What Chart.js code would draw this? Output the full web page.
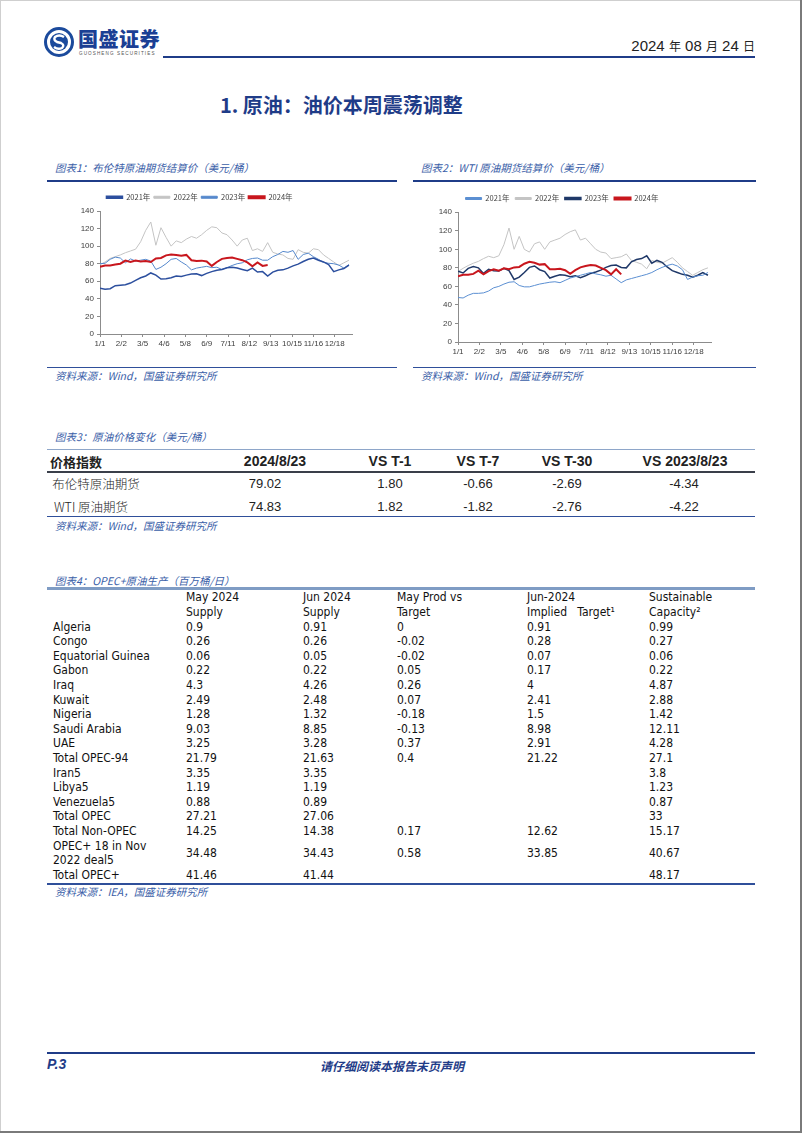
<!DOCTYPE html>
<html>
<head>
<meta charset="utf-8">
<script src="https://cdn.jsdelivr.net/npm/chart.js@4/dist/chart.umd.min.js"></script>
<style>
  html, body { margin: 0; padding: 0; }
  body { width: 802px; height: 1133px; position: relative; background: #fff; overflow: hidden;
         font-family: "Liberation Sans", "Noto Sans CJK SC", sans-serif; color: #222; }
  .abs { position: absolute; white-space: nowrap; }
  .cap { font-family: "Noto Sans CJK SC", sans-serif; font-style: italic; font-size: 10.5px; color: #3a5ea8; }
  .line { position: absolute; }
  .c3 { position: absolute; transform: translate(-50%, -50%); font-size: 13px; color: #222; }
  .h3 { font-weight: bold; font-size: 14px; }
  #opec { position: absolute; left: 47px; top: 590px; width: 708px; border-collapse: collapse; table-layout: fixed;
          font-family: "DejaVu Sans Condensed", "Liberation Sans", sans-serif; font-size: 12px; color: #111; }
  #opec td { padding: 0; line-height: 14.6px; height: 14.6px; vertical-align: middle; white-space: nowrap; }
  #opec td:first-child { padding-left: 6px; }
  #opec tr.hd td { line-height: 14.8px; vertical-align: top; }
</style>
</head>
<body>

<!-- page edges -->
<div class="line" style="left:0;top:0;width:802px;height:1px;background:#cfcfcf"></div>
<div class="line" style="left:0;top:0;width:1px;height:1133px;background:#cfcfcf"></div>
<div class="line" style="left:800px;top:0;width:2px;height:1133px;background:#7a7a7a"></div>
<div class="line" style="left:0;top:1131px;width:802px;height:2px;background:#7a7a7a"></div>

<!-- header -->
<svg class="abs" style="left:44px;top:27px" width="30" height="30" viewBox="0 0 30 30">
  <circle cx="15" cy="15" r="13.5" fill="none" stroke="#1b4a9c" stroke-width="3"/>
  <circle cx="15" cy="15" r="9" fill="#1b4a9c"/>
  <path d="M20 10 Q15 7 11 10 Q9 13 13 15 L17 16 Q21 18 18 21 Q14 23 10 20" fill="none" stroke="#fff" stroke-width="2.4"/>
</svg>
<div class="abs" style="left:78px;top:28px;line-height:22px;font-family:'Noto Sans CJK SC';font-weight:900;font-size:20px;color:#1b3f94;letter-spacing:0.5px">国盛证券</div>
<div class="abs" style="left:79px;top:51px;line-height:6px;font-size:4.6px;letter-spacing:1.1px;color:#555">GUOSHENG SECURITIES</div>
<div class="line" style="left:163px;top:56px;width:592px;height:2px;background:#1f3c88"></div>
<div class="abs" style="right:47px;top:37px;font-size:15px;color:#222">2024 <span style="font-family:'Noto Sans CJK SC';font-size:12px">年</span> 08 <span style="font-family:'Noto Sans CJK SC';font-size:12px">月</span> 24 <span style="font-family:'Noto Sans CJK SC';font-size:12px">日</span></div>

<div class="abs" style="left:220px;top:90px;font-family:'Noto Sans CJK SC';font-weight:bold;font-size:20px;color:#1f3c88">1. 原油：油价本周震荡调整</div>

<!-- chart captions -->
<div class="abs cap" style="left:55px;top:160px">图表1：布伦特原油期货结算价（美元/桶）</div>
<div class="line" style="left:47px;top:180px;width:350px;height:2px;background:#1f3c88"></div>
<div class="abs cap" style="left:421px;top:160px">图表2：WTI 原油期货结算价（美元/桶）</div>
<div class="line" style="left:413px;top:180px;width:343px;height:2px;background:#1f3c88"></div>

<canvas id="brentChart" class="abs" style="left:47px;top:187px" width="350" height="170"></canvas>
<canvas id="wtiChart" class="abs" style="left:413px;top:186px" width="343" height="180"></canvas>

<div class="line" style="left:47px;top:367px;width:350px;height:1px;background:#2f4f9a"></div>
<div class="abs cap" style="left:55px;top:368px">资料来源：Wind，国盛证券研究所</div>
<div class="line" style="left:413px;top:367px;width:343px;height:1px;background:#2f4f9a"></div>
<div class="abs cap" style="left:421px;top:368px">资料来源：Wind，国盛证券研究所</div>

<!-- table 3 -->
<div class="abs cap" style="left:55px;top:429px">图表3：原油价格变化（美元/桶）</div>
<div class="line" style="left:47px;top:449px;width:708px;height:1px;background:#8ea6c9"></div>
<div class="c3 h3" style="left:76px;top:461px;font-family:'Noto Sans CJK SC';font-size:13px">价格指数</div>
<div class="c3 h3" style="left:275px;top:461px">2024/8/23</div>
<div class="c3 h3" style="left:390px;top:461px">VS T-1</div>
<div class="c3 h3" style="left:478px;top:461px">VS T-7</div>
<div class="c3 h3" style="left:567px;top:461px">VS T-30</div>
<div class="c3 h3" style="left:685px;top:461px">VS 2023/8/23</div>
<div class="line" style="left:47px;top:471px;width:708px;height:2px;background:#3a3f4a"></div>
<div class="c3" style="left:96px;top:483px;font-family:'Noto Sans CJK SC';font-weight:300;font-size:12.5px">布伦特原油期货</div>
<div class="c3" style="left:265px;top:483px">79.02</div>
<div class="c3" style="left:390px;top:483px">1.80</div>
<div class="c3" style="left:478px;top:483px">-0.66</div>
<div class="c3" style="left:567px;top:483px">-2.69</div>
<div class="c3" style="left:684px;top:483px">-4.34</div>
<div class="c3" style="left:91px;top:506px;font-family:'Noto Sans CJK SC';font-weight:300;font-size:12.5px">WTI 原油期货</div>
<div class="c3" style="left:265px;top:506px">74.83</div>
<div class="c3" style="left:390px;top:506px">1.82</div>
<div class="c3" style="left:478px;top:506px">-1.82</div>
<div class="c3" style="left:567px;top:506px">-2.76</div>
<div class="c3" style="left:684px;top:506px">-4.22</div>
<div class="line" style="left:47px;top:516px;width:708px;height:1px;background:#2f4f9a"></div>
<div class="abs cap" style="left:55px;top:518px">资料来源：Wind，国盛证券研究所</div>

<!-- table 4 -->
<div class="abs cap" style="left:55px;top:573px">图表4：OPEC+原油生产（百万桶/日）</div>
<div class="line" style="left:47px;top:587px;width:708px;height:3px;background:#7f9cc4"></div>
<table id="opec">
  <colgroup><col style="width:139px"><col style="width:117px"><col style="width:94px"><col style="width:130px"><col style="width:122px"><col style="width:106px"></colgroup>
  <tr class="hd"><td></td><td>May 2024<br>Supply</td><td>Jun 2024<br>Supply</td><td>May Prod vs<br>Target</td><td>Jun-2024<br>Implied&nbsp;&nbsp;&nbsp;Target¹</td><td>Sustainable<br>Capacity²</td></tr>
  <tr><td>Algeria</td><td>0.9</td><td>0.91</td><td>0</td><td>0.91</td><td>0.99</td></tr>
  <tr><td>Congo</td><td>0.26</td><td>0.26</td><td>-0.02</td><td>0.28</td><td>0.27</td></tr>
  <tr><td>Equatorial Guinea</td><td>0.06</td><td>0.05</td><td>-0.02</td><td>0.07</td><td>0.06</td></tr>
  <tr><td>Gabon</td><td>0.22</td><td>0.22</td><td>0.05</td><td>0.17</td><td>0.22</td></tr>
  <tr><td>Iraq</td><td>4.3</td><td>4.26</td><td>0.26</td><td>4</td><td>4.87</td></tr>
  <tr><td>Kuwait</td><td>2.49</td><td>2.48</td><td>0.07</td><td>2.41</td><td>2.88</td></tr>
  <tr><td>Nigeria</td><td>1.28</td><td>1.32</td><td>-0.18</td><td>1.5</td><td>1.42</td></tr>
  <tr><td>Saudi Arabia</td><td>9.03</td><td>8.85</td><td>-0.13</td><td>8.98</td><td>12.11</td></tr>
  <tr><td>UAE</td><td>3.25</td><td>3.28</td><td>0.37</td><td>2.91</td><td>4.28</td></tr>
  <tr><td>Total OPEC-94</td><td>21.79</td><td>21.63</td><td>0.4</td><td>21.22</td><td>27.1</td></tr>
  <tr><td>Iran5</td><td>3.35</td><td>3.35</td><td></td><td></td><td>3.8</td></tr>
  <tr><td>Libya5</td><td>1.19</td><td>1.19</td><td></td><td></td><td>1.23</td></tr>
  <tr><td>Venezuela5</td><td>0.88</td><td>0.89</td><td></td><td></td><td>0.87</td></tr>
  <tr><td>Total OPEC</td><td>27.21</td><td>27.06</td><td></td><td></td><td>33</td></tr>
  <tr><td>Total Non-OPEC</td><td>14.25</td><td>14.38</td><td>0.17</td><td>12.62</td><td>15.17</td></tr>
  <tr><td>OPEC+ 18 in Nov<br>2022 deal5</td><td>34.48</td><td>34.43</td><td>0.58</td><td>33.85</td><td>40.67</td></tr>
  <tr><td>Total OPEC+</td><td>41.46</td><td>41.44</td><td></td><td></td><td>48.17</td></tr>
</table>
<div class="line" style="left:47px;top:883px;width:708px;height:1.5px;background:#2f4f9a"></div>
<div class="abs cap" style="left:55px;top:884px">资料来源：IEA，国盛证券研究所</div>

<!-- footer -->
<div class="line" style="left:47px;top:1052px;width:708px;height:2px;background:#1f3c88"></div>
<div class="abs" style="left:47px;top:1056px;font-weight:bold;font-style:italic;font-size:14px;color:#1f3c88">P.3</div>
<div class="abs" style="left:320px;top:1057px;font-family:'Noto Sans CJK SC';font-weight:bold;font-style:italic;font-size:12px;color:#1f3c88">请仔细阅读本报告末页声明</div>

<script>
// x = trading day index, one point every 5 trading days
const STEP = 5;
const tickDays = [0, 21, 42, 63, 84, 105, 126, 147, 168, 189, 210, 231];
const tickLabels = ['1/1', '2/2', '3/5', '4/6', '5/8', '6/9', '7/11', '8/12', '9/13', '10/15', '11/16', '12/18'];
const seriesNames = ['2021年', '2022年', '2023年', '2024年'];

// Brent settlement, USD/bbl
const brent2021 = [52,51,51.5,55,55.5,56,58,61,64,66, 69.5,67,62.5,63,64,66,65.5,67,68.3,68.5, 66.5,69,71,72.5,73.5,75.5,76,75,73.5,72, 75,70.5,71,66,70.5,72.5,73,75,77.5,79.5, 82.5,85,86.5,84,82,79,71,73,74.5,78.5];
const brent2022 = [79,82,86,88,90,92.5,94.5,96.5,105,118, 127.5,101,121,110,100,106,104,108,111,109, 113,118,122,121,115,113,107,100,107,109, 95,97,94,104,93,91,90,86,85,96, 93,92,97,96,90,86,82,78,81,84];
const brent2023 = [80,80.5,85,87.5,86.5,81,85.5,83,84,85, 83,73.5,76,80,85,86,82,78.5,73,75, 76,77,75.5,76,73.5,75.5,78,80,81,84.5, 86,86.5,84,84,88,90.5,94,93,95,85, 90.5,92,88,85,81.5,80.5,80,78.5,75,79];
const brent2024 = [76.5,78,78,79,80,83.5,82,83.5,82.5,83, 82,86,86.5,89.5,90.5,90,89,90,84,83, 83.5,82.5,77.5,82,85.5,86.5,87,85.5,84,81.5, 77,81.5,77.5,78.5];

// WTI settlement, USD/bbl
const wti2021 = [48,47.5,50.5,52.5,52.5,53,55,58.5,60,62.5, 64.5,65,61,59.5,59.5,61,62.5,63.5,64.5,65, 64,66.5,69,70.5,72,73.5,75,73.5,72.5,71, 72,68,64,67,68.5,70,71.5,73,75,78, 80.5,82.5,84,82,78,67.5,70,71.5,72,75];
const wti2022 = [76,79.5,82.5,85,87,90,92.5,91,93,105, 123,100,114,100,97,106,108,100,108,110, 112,116,119,121,110,112,106,100,97,96, 90,91,92,95,88,86,84,79,88,86, 85,88,91,86,80,76,72,75,78,80];
const wti2023 = [76.5,74.5,79.5,81.5,80,74,78.5,77,76.5,79.5, 77,67.5,70,75,80.5,82,78,76,69,71, 72.5,72,70.5,71.5,69.5,71.5,74,75.5,77.5,80.5, 82.5,83,80.5,80,86.5,89,90,93,85,88, 86,81,77,75,73,72,70,72,75,72];
const wti2024 = [71,72.5,72.5,73.5,77,73,76.5,78.5,77,79.5, 78.5,80.5,81,84.5,86.5,85.5,83.5,84,78.5,78.5, 79,77.5,73.5,77.5,80.5,82,83,82.5,80,77.5, 73,78.5,73];

function toPoints(values) {
    return values.map((v, i) => ({ x: i * STEP, y: v }));
}

function makeChart(id, data, colors, widths, cfg) {
    const drawOrder = [1, 3, 2, 0]; // red on top, gray behind
    new Chart(document.getElementById(id), {
        type: 'line',
        data: {
            datasets: data.map((vals, i) => ({
                label: seriesNames[i],
                data: toPoints(vals),
                borderColor: colors[i],
                backgroundColor: colors[i],
                borderWidth: widths[i],
                pointRadius: 0,
                tension: 0,
                order: drawOrder[i]
            }))
        },
        options: {
            responsive: false,
            animation: false,
            devicePixelRatio: 1,
            layout: { padding: { top: 3, right: cfg.padRight, left: 0, bottom: 0 } },
            plugins: {
                tooltip: { enabled: false },
                legend: {
                    labels: {
                        sort: (a, b) => a.datasetIndex - b.datasetIndex,
                        boxWidth: 16,
                        boxHeight: 2,
                        padding: cfg.legendPad,
                        color: '#404040',
                        font: { size: 7.5, family: 'Noto Sans CJK SC' }
                    }
                }
            },
            scales: {
                x: {
                    type: 'linear',
                    min: 0,
                    max: 248,
                    afterBuildTicks: scale => { scale.ticks = tickDays.map(v => ({ value: v })); },
                    afterFit: scale => { scale.height = cfg.xHeight; },
                    grid: { drawOnChartArea: false, drawTicks: true, tickLength: 3, color: '#8c8c8c' },
                    border: { color: '#8c8c8c' },
                    ticks: {
                        autoSkip: false, maxRotation: 0, padding: 2, color: '#404040',
                        font: { size: 8, family: 'Liberation Sans' },
                        callback: v => tickLabels[tickDays.indexOf(v)]
                    }
                },
                y: {
                    min: 0,
                    max: 140,
                    afterFit: scale => { scale.width = cfg.yWidth; },
                    grid: { drawOnChartArea: false, drawTicks: true, tickLength: 3, color: '#8c8c8c' },
                    border: { color: '#8c8c8c' },
                    ticks: { stepSize: 20, padding: 3, color: '#404040', font: { size: 8, family: 'Liberation Sans' } }
                }
            }
        }
    });
}

makeChart('brentChart', [brent2021, brent2022, brent2023, brent2024],
    ['#2c4f9e', '#c4c4c4', '#5588cc', '#c8161d'], [1.5, 1, 1, 2],
    { padRight: 45, legendPad: 3.5, xHeight: 23, yWidth: 53 });

makeChart('wtiChart', [wti2021, wti2022, wti2023, wti2024],
    ['#5b8fd2', '#c4c4c4', '#1f3868', '#c8161d'], [1, 1, 1.5, 2],
    { padRight: 45, legendPad: 5.75, xHeight: 24, yWidth: 45 });
</script>
</body>
</html>
